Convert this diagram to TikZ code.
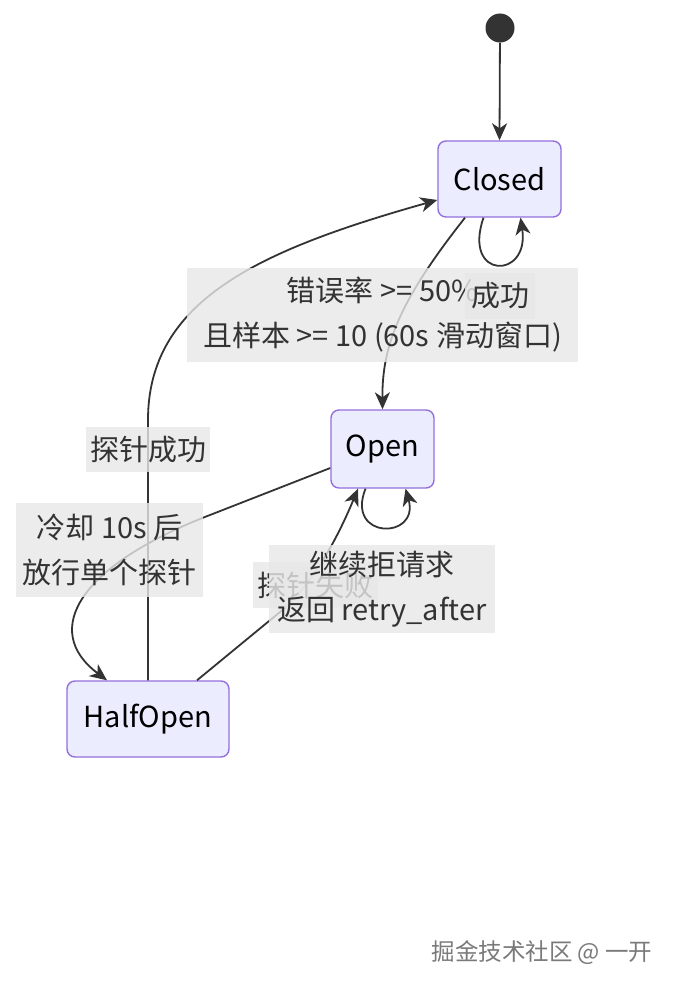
\documentclass[tikz,border=0pt]{standalone}
\usepackage{fontspec}
\setmainfont{Noto Sans CJK SC}
\usetikzlibrary{arrows.meta,calc}
\definecolor{nodefill}{HTML}{ECECFF}
\definecolor{nodeline}{HTML}{9370DB}
\definecolor{edgecol}{HTML}{333333}
\definecolor{lblbg}{HTML}{E8E8E8}
\definecolor{wmcol}{HTML}{7A7A7A}
\tikzset{
  state/.style={draw=nodeline, fill=nodefill, line width=1.4pt, rounded corners=8pt,
    font=\fontsize{29}{34}\selectfont, text=black, inner sep=0pt},
  edge/.style={draw=edgecol, line width=1.8pt, -{Stealth[length=17pt,width=15pt,inset=5pt]}},
  lbl/.style={fill=lblbg, fill opacity=0.8, text opacity=1, text=edgecol, align=center,
    font=\fontsize{29}{45}\selectfont, inner sep=0pt},
}
\begin{document}
\begin{tikzpicture}[x=1pt,y=-1pt]
\useasboundingbox (0,0) rectangle (684,990);
\fill[white] (0,0) rectangle (684,990);
% nodes
\node[circle, fill=edgecol, minimum size=29pt, inner sep=0pt] (start) at (500,28) {};
\node[state, minimum width=123pt, minimum height=76pt] (closed) at (499.5,179) {Closed};
\node[state, minimum width=103pt, minimum height=78pt] (open) at (382.5,449) {Open};
\node[state, minimum width=162pt, minimum height=76pt] (half) at (148,719) {HalfOpen};
% edges
\draw[edge] (start) -- (closed.north);
\draw[edge] ($(closed.south)+(-34.5,0)$) .. controls (400,300) and (382,345) .. (open.north);
\draw[edge] ($(closed.south)+(-16,0)$) .. controls (462,280) and (530,280) .. ($(closed.south)+(21,0)$);
\draw[edge] (half.north) -- (148,420) .. controls (148,300) and (260,250) .. ($(closed.west)+(0,21)$);
\draw[edge] ($(open.west)+(0,19)$) -- (210,515) .. controls (80,565) and (40,630) .. ($(half.north)+(-41,0)$);
\draw[edge] ($(half.north)+(49,0)$) -- (280,612) .. controls (320,578) and (345,520) .. ($(open.south)+(-24.5,0)$);
\draw[edge] ($(open.south)+(-17,0)$) .. controls (345,540) and (420,540) .. ($(open.south)+(23,0)$);
% labels
\node[lbl, minimum width=391pt, minimum height=94pt] (l1) at (382.5,315) {错误率 >= 50\%\\且样本 >= 10 (60s 滑动窗口)};
\node[lbl, minimum width=70pt, minimum height=46pt] (l2) at (500,296) {成功};
\node[lbl, minimum width=124pt, minimum height=45pt] (l3) at (148,449.5) {探针成功};
\node[lbl, minimum width=187pt, minimum height=94pt] (l4) at (109.5,550) {冷却 10s 后\\放行单个探针};
\node[lbl, minimum width=125pt, minimum height=46pt] (l5) at (315.5,585) {探针失败};
\node[lbl, minimum width=226pt, minimum height=88pt] (l6) at (382,589) {继续拒请求\\返回 retry\_after};
% watermark
\node[text=wmcol, font=\fontsize{23.5}{28}\selectfont, inner sep=0pt] (wm) at (542,953) {掘金技术社区 @ 一开};
\end{tikzpicture}
\end{document}
